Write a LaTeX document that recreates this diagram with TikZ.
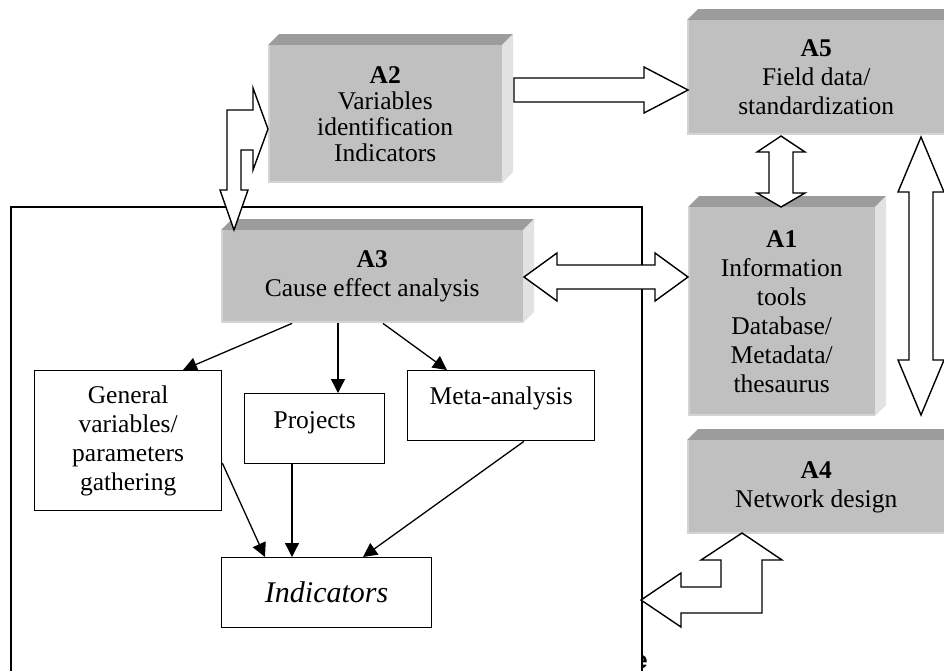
\documentclass[tikz,border=0pt]{standalone}
\usepackage{fontspec}
\setmainfont{Liberation Serif}
\newfontfamily\fragfont{Liberation Sans}
\usetikzlibrary{arrows.meta,calc}

\definecolor{facegray}{HTML}{C0C0C0}
\definecolor{topgray}{HTML}{9C9C9C}
\definecolor{sidegray}{HTML}{E2E2E2}
\definecolor{rimgray}{HTML}{D4D4D4}

% raised grey box: [style]{name}{x1}{y1}{x2}{y2}{text}
\newcommand\bevbox[7][]{%
  \fill[topgray] (#3,#4) -- (#3+11,#4-11) -- (#5+11,#4-11) -- (#5,#4) -- cycle;
  \fill[sidegray] (#5,#4) -- (#5+11,#4-11) -- (#5+11,#6-11) -- (#5,#6) -- cycle;
  \node[face, minimum width=#5-#3, minimum height=#6-#4, #1] (#2) at (#3,#4) {#7};
  \draw[rimgray, line width=1.6pt] (#3+0.8,#4) -- (#3+0.8,#6-0.8) -- (#5,#6-0.8);
}

\begin{document}
\begin{tikzpicture}[x=1pt,y=-1pt,
  txt/.style={font=\fontsize{25.5}{29}\selectfont, align=center},
  face/.style={txt, fill=facegray, inner sep=0pt, anchor=north west},
  plainbox/.style={txt, draw=black, line width=1.3pt, fill=white, inner sep=0pt, anchor=north west},
  link/.style={line width=1.3pt, -{Triangle[length=14pt,width=14pt]}},
  blockarrow/.style={draw=black, fill=white, line width=1.4pt, line join=miter},
  frameline/.style={line width=1.4pt}]
\useasboundingbox (0,0) rectangle (944,670);
\clip (0,0) rectangle (944,670);

% open frame round the analysis part
\draw[frameline] (11,675) -- (11,207) -- (642,207) -- (642,675);

% raised grey boxes
\bevbox[font=\fontsize{25.5}{26}\selectfont]{A2}{268}{45}{502}{183}{\textbf{A2}\\Variables\\identification\\Indicators}
\bevbox{A5}{687}{20}{945}{135}{\textbf{A5}\\Field data/\\standardization}
\bevbox{A1}{688}{207}{875}{416}{\textbf{A1}\\Information\\tools\\Database/\\Metadata/\\thesaurus}
\bevbox{A3}{221}{230}{523}{323}{\textbf{A3}\\Cause effect analysis}
\bevbox{A4}{687}{440}{945}{534}{\textbf{A4}\\Network design}

% plain boxes
\node[plainbox, minimum width=187, minimum height=140] (gen) at (34,370) {General\\variables/\\parameters\\gathering};
\node[plainbox, minimum width=140, text height=35pt, text depth=35pt] (proj) at (244,393) {Projects};
\node[plainbox, minimum width=187, text height=34pt, text depth=36pt] (meta) at (407,370) {Meta-analysis};
\node[plainbox, minimum width=210, minimum height=70, font=\fontsize{30}{34}\selectfont\itshape] (ind) at (221,557) {Indicators};

% thin arrows
\draw[link] ([xshift=71pt]A3.south west) -- ([xshift=149pt]gen.north west);
\draw[link] ([xshift=117pt]A3.south west) -- ([xshift=94pt]proj.north west);
\draw[link] ([xshift=162pt]A3.south west) -- ([xshift=40pt]meta.north west);
\draw[link] ([yshift=-93pt]gen.north east) -- ([xshift=44pt]ind.north west);
\draw[link] ([xshift=48pt]proj.south west) -- ([xshift=71pt]ind.north west);
\draw[link] ([xshift=117pt]meta.south west) -- ([xshift=142pt]ind.north west);

% block arrows
% A2 -> A5
\draw[blockarrow] (514,78) -- (644,78) -- (644,67) -- (688,90) -- (644,113) -- (644,102) -- (514,102) -- cycle;
% A5 <-> A1
\draw[blockarrow] (781,136) -- (805,152) -- (793,152) -- (793,193) -- (805,193) -- (781,207)
  -- (757,193) -- (769,193) -- (769,152) -- (757,152) -- cycle;
% A3 <-> A1
\draw[blockarrow] (524,277) -- (557,253) -- (557,265) -- (655,265) -- (655,253) -- (688,277)
  -- (655,301) -- (655,289) -- (557,289) -- (557,301) -- cycle;
% A5 <-> A4
\draw[blockarrow] (921,137) -- (944,192) -- (933,192) -- (933,360) -- (944,360) -- (921,415)
  -- (898,360) -- (909,360) -- (909,192) -- (898,192) -- cycle;
% A2 bent arrow (to A2 and down to A3)
\draw[blockarrow] (227,110) -- (253,110) -- (253,88) -- (268,129) -- (253,170) -- (253,150)
  -- (241,150) -- (241,190) -- (248,190) -- (234,230) -- (220,190) -- (227,190) -- cycle;
% A4 bent arrow (up to A4 and left to the frame)
\draw[blockarrow] (742,533) -- (782,560) -- (762,560) -- (762,613) -- (681,613) -- (681,627)
  -- (641,600) -- (681,573) -- (681,587) -- (721,587) -- (721,560) -- (701,560) -- cycle;

% letter showing past the frame edge
\begin{scope}
  \clip (642.7,640) rectangle (660,670);
  \node[font=\fontsize{24}{24}\selectfont\fragfont\bfseries, anchor=base east, inner sep=0pt] (efrag) at (648,668) {e};
\end{scope}
\end{tikzpicture}
\end{document}
